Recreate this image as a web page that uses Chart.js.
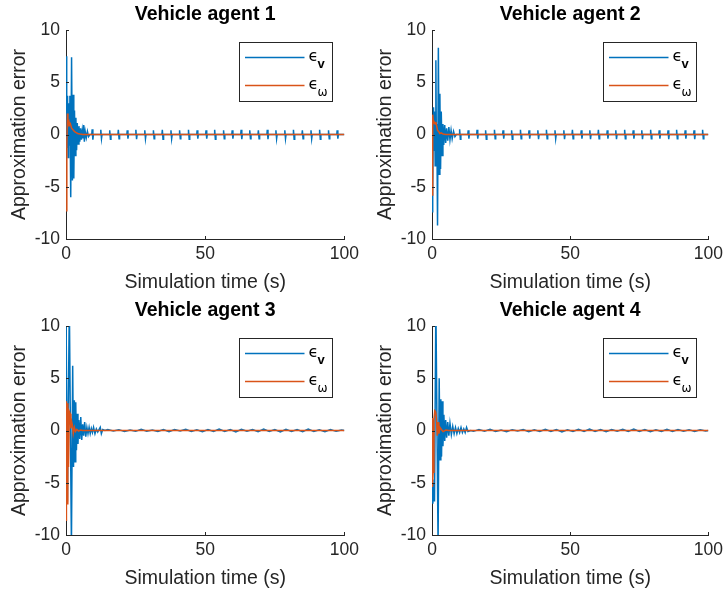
<!DOCTYPE html>
<html>
<head>
<meta charset="utf-8">
<script src="https://cdn.jsdelivr.net/npm/chart.js@4.4.1/dist/chart.umd.min.js"></script>
<style>
  html, body { margin: 0; padding: 0; background: #fff; }
  #wrap { position: relative; width: 728px; height: 599px; }
  .panel { position: absolute; width: 364px; height: 296px; }
</style>
</head>
<body>
<div id="wrap">
  <div class="panel" style="left:0;top:0"><canvas id="c1" width="364" height="296"></canvas></div>
  <div class="panel" style="left:364px;top:0"><canvas id="c2" width="364" height="296"></canvas></div>
  <div class="panel" style="left:0;top:296px"><canvas id="c3" width="364" height="296"></canvas></div>
  <div class="panel" style="left:364px;top:296px"><canvas id="c4" width="364" height="296"></canvas></div>
</div>
<script>
const titles = ["Vehicle agent 1", "Vehicle agent 2", "Vehicle agent 3", "Vehicle agent 4"];
const xTicks = [0, 50, 100];
const yTicks = [-10, -5, 0, 5, 10];

// agent 1
const tV1 = [0, 0.15, 0.35, 0.55, 0.75, 0.95, 1.15, 1.4, 1.7, 2.0, 2.3, 2.55, 2.8, 3.05, 3.3, 3.55, 3.8, 4.05, 4.35, 4.65, 4.95, 5.25, 5.55, 5.85, 6.15, 6.35, 6.6, 6.9, 7.3, 7.7, 8.1, 8.6];
const eV1 = [0.5, 7.5, -1.3, 3.7, -2.2, 3.0, -1.0, 3.7, -6.0, 7.4, -4.4, 3.8, -4.2, 2.3, -2.0, 1.6, -1.5, 1.1, -0.9, 0.8, -0.7, 0.6, -0.5, 0.4, -0.3, 0.9, -0.7, 0.3, -0.3, 0.3, -0.2, 0];
const sT1 = [9.4, 12.5, 15.7, 18.8, 22.0, 25.1, 28.3, 31.4, 34.6, 37.7, 40.8, 44.0, 47.1, 50.3, 53.4, 56.6, 59.7, 62.9, 66.0, 69.1, 72.3, 75.4, 78.6, 81.7, 84.9, 88.0, 91.1, 94.3, 97.4];
const sHi1 = [0.5, 0.45, 0.4, 0.45, 0.4, 0.45, 0.4, 0.4, 0.45, 0.4, 0.4, 0.45, 0.4, 0.4, 0.45, 0.4, 0.4, 0.45, 0.4, 0.4, 0.45, 0.4, 0.4, 0.45, 0.4, 0.4, 0.45, 0.4, 0.4];
const sLo1 = [-0.5, -0.4, -0.45, -0.4, -0.4, -0.45, -0.4, -0.4, -0.45, -0.4, -0.4, -0.45, -0.4, -0.4, -0.45, -0.4, -0.4, -0.45, -0.4, -0.4, -0.45, -0.4, -0.4, -0.45, -0.4, -0.4, -0.45, -0.4, -0.4];
const tW1 = [0, 0.3, 0.5, 0.7, 0.9, 1.1, 1.3, 1.6, 2.0, 2.5, 3.0, 3.5, 4.2, 5.0, 6.0, 100];
const eW1 = [-7.3, -1.0, 2.0, 1.3, 1.0, 1.2, 0.9, 1.0, 0.6, 0.45, 0.3, 0.2, 0.1, 0.05, 0, 0];

// agent 2
const tV2 = [0, 0.15, 0.35, 0.55, 0.75, 0.95, 1.15, 1.4, 1.6, 1.75, 2.0, 2.3, 2.6, 2.85, 3.1, 3.35, 3.65, 3.95, 4.25, 4.6, 4.95, 5.3, 5.7, 6.1, 6.5, 6.9, 7.3, 7.8, 8.3, 8.8];
const eV2 = [-7.4, -2.8, -5.5, 2.6, -1.5, 2.2, -3.0, 7.1, -2.0, 1.0, -8.7, 8.3, -3.8, 3.9, -3.3, 2.2, -2.0, 1.0, -1.0, 0.9, -0.8, 0.6, -0.6, 0.7, -0.5, 0.4, -0.4, 0.3, -0.2, 0];
const sT2 = [10.0, 13.1, 16.3, 19.4, 22.6, 25.7, 28.8, 32.0, 35.1, 38.3, 41.4, 44.5, 47.7, 50.8, 54.0, 57.1, 60.2, 63.4, 66.5, 69.7, 72.8, 75.9, 79.1, 82.2, 85.4, 88.5, 91.6, 94.8, 97.9];
const sHi2 = [0.5, 0.4, 0.45, 0.4, 0.45, 0.4, 0.4, 0.45, 0.4, 0.4, 0.45, 0.4, 0.4, 0.45, 0.4, 0.4, 0.45, 0.4, 0.4, 0.45, 0.4, 0.4, 0.45, 0.4, 0.4, 0.45, 0.4, 0.4, 0.45];
const sLo2 = [-0.45, -0.4, -0.4, -0.45, -0.4, -0.4, -0.45, -0.4, -0.4, -0.45, -0.4, -0.4, -0.45, -0.4, -0.4, -0.45, -0.4, -0.4, -0.45, -0.4, -0.4, -0.45, -0.4, -0.4, -0.45, -0.4, -0.4, -0.45, -0.4];
const tW2 = [0, 0.15, 0.35, 0.55, 0.8, 1.1, 1.4, 1.7, 2.0, 2.4, 2.8, 3.3, 4.0, 5.0, 6.0, 100];
const eW2 = [-5.8, -2.0, 1.9, 1.1, 1.2, 1.0, 1.2, 0.8, 0.4, 0.3, 0.1, 0.15, 0.05, 0, 0, 0];

// agents 3 and 4: transient, then small noise on a shared time grid
const tNoise = [15, 17, 19, 21, 23, 25, 27, 29, 31, 33, 35, 37, 39, 41, 43, 45, 47, 49, 51, 53, 55, 57, 59, 61, 63, 65, 67, 69, 71, 73, 75, 77, 79, 81, 83, 85, 87, 89, 91, 93, 95, 97, 99];

const tV3 = [0, 0.5, 1.2, 1.95, 2.4, 2.7, 3.0, 3.25, 3.5, 3.75, 4.0, 4.3, 4.6, 4.95, 5.3, 5.65, 6.0, 6.35, 6.7, 7.1, 7.5, 7.9, 8.3, 8.7, 9.1, 9.5, 9.9, 10.4, 10.9, 11.4, 11.9, 12.3, 12.7, 13.2, 14];
const eV3 = [12, -6.8, 12, -11, 6.2, -3.5, 2.9, -3.0, 2.7, -1.9, 1.6, -1.3, 1.0, -0.8, 1.3, -0.9, 0.6, -0.5, 0.8, -0.6, 0.3, -0.3, 0.3, -0.3, 0.2, -0.2, 0.3, -0.3, 0.15, -0.15, 0.1, 0.3, -0.3, 0.1, 0];
const nV3 = [0.1, -0.05, 0.08, -0.1, 0.05, -0.08, 0.12, -0.06, 0.04, -0.1, 0.08, -0.12, 0.1, -0.05, 0.12, -0.1, 0.06, -0.12, 0.1, -0.08, 0.14, -0.1, 0.08, -0.14, 0.12, -0.06, 0.1, -0.12, 0.14, -0.08, 0.1, -0.14, 0.12, -0.1, 0.08, -0.12, 0.14, -0.1, 0.06, -0.12, 0.1, -0.08, 0.05];
const tW3 = [0, 0.15, 0.4, 0.65, 0.9, 1.2, 1.5, 1.75, 2.0, 2.3, 2.6, 3.0, 3.4, 3.9, 4.5, 5.2, 6.0, 7.0, 100];
const eW3 = [-8.6, 2.8, -7.0, 2.6, -3.5, 1.8, 1.6, 0.2, 0.9, 0.5, -0.3, 0.3, -0.1, 0.1, -0.05, 0.05, 0, 0, 0];

const tV4 = [0, 0.3, 0.6, 0.9, 1.4, 2.2, 2.6, 2.9, 3.2, 3.45, 3.7, 3.95, 4.3, 4.6, 4.95, 5.3, 5.7, 6.1, 6.5, 7.0, 7.5, 8.0, 8.5, 9.0, 9.5, 10.0, 10.5, 11.0, 11.5, 12.0, 12.5, 13.0, 14];
const eV4 = [-4.7, -7.0, -5.0, -6.8, 12, -11, 5.0, -2.8, 3.0, -2.5, 2.8, -1.5, 1.5, -1.0, 1.0, -0.7, 0.8, -0.5, 0.7, -0.4, 0.4, -0.3, 0.3, -0.3, 0.2, -0.2, 0.3, -0.2, 0.15, -0.2, 0.3, -0.1, 0];
const nV4 = [-0.08, 0.1, -0.06, 0.12, -0.1, 0.05, -0.12, 0.08, -0.05, 0.1, -0.12, 0.06, -0.1, 0.12, -0.08, 0.1, -0.14, 0.06, -0.1, 0.12, -0.08, 0.14, -0.1, 0.08, -0.12, 0.1, -0.06, 0.12, -0.1, 0.14, -0.08, 0.1, -0.12, 0.06, -0.1, 0.12, -0.08, 0.1, -0.06, 0.08, -0.1, 0.06, -0.04];
const tW4 = [0, 0.15, 0.4, 0.7, 1.0, 1.3, 1.6, 1.9, 2.2, 2.5, 2.9, 3.4, 4.0, 5.0, 6.0, 100];
const eW4 = [1.2, -5.4, -4.0, 1.0, 1.9, 1.8, 1.2, -0.5, 0.8, -0.3, 0.3, 0.1, -0.1, 0.05, 0, 0];

const BLUE = "#0072BD";
const ORANGE = "#D95319";
const AXIS = "#262626";
const FONT = '"Liberation Sans", Arial, Helvetica, sans-serif';
const xEnd = xTicks[xTicks.length - 1];

Chart.defaults.font.family = FONT;

function toPoints(ts, vs) {
  return ts.map((t, i) => ({ x: t, y: vs[i] }));
}

// each periodic burst: back to zero, peak, trough, zero
function spikes(ts, his, los) {
  const pts = [];
  ts.forEach((t, i) => {
    pts.push({ x: t - 0.15, y: 0 }, { x: t, y: his[i] }, { x: t + 0.25, y: los[i] }, { x: t + 0.45, y: 0 });
  });
  return pts;
}

const panelDecor = {
  id: "panelDecor",
  afterDraw(chart, args, opts) {
    const { ctx, chartArea: a, scales: { x, y } } = chart;
    ctx.save();

    ctx.fillStyle = "#000";
    ctx.font = "bold 19.5px " + FONT;
    ctx.textAlign = "center";
    ctx.textBaseline = "alphabetic";
    ctx.fillText(opts.title, (a.left + a.right) / 2, a.top - 10);

    // inward ticks like matlab
    ctx.strokeStyle = AXIS;
    ctx.lineWidth = 1;
    ctx.beginPath();
    x.ticks.forEach(t => {
      const px = Math.round(x.getPixelForValue(t.value)) + 0.5;
      ctx.moveTo(px, a.bottom);
      ctx.lineTo(px, a.bottom - 3);
    });
    y.ticks.forEach(t => {
      const py = Math.round(y.getPixelForValue(t.value)) + 0.5;
      ctx.moveTo(a.left, py);
      ctx.lineTo(a.left + 3, py);
    });
    ctx.stroke();

    // legend box
    const right = Math.round(a.right - 12) + 0.5;
    const left = right - 93;
    const top = Math.round(a.top + 12) + 0.5;
    ctx.fillStyle = "#fff";
    ctx.fillRect(left, top, 93, 59);
    ctx.strokeStyle = AXIS;
    ctx.strokeRect(left, top, 93, 59);

    const rows = [
      { y: top + 15, color: BLUE, sub: "v", subFont: "bold 13px " + FONT },
      { y: top + 43, color: ORANGE, sub: "\u03c9", subFont: '12px "DejaVu Sans", sans-serif' },
    ];
    rows.forEach(r => {
      ctx.strokeStyle = r.color;
      ctx.lineWidth = 1.3;
      ctx.beginPath();
      ctx.moveTo(left + 5.5, r.y);
      ctx.lineTo(left + 65, r.y);
      ctx.stroke();
      ctx.fillStyle = "#000";
      ctx.textAlign = "left";
      ctx.font = '16px "DejaVu Sans", sans-serif';
      ctx.fillText("\u03f5", left + 69, r.y + 3);
      ctx.font = r.subFont;
      ctx.fillText(r.sub, left + 78, r.y + 10);
    });

    ctx.restore();
  }
};

function makePanel(id, title, blue, orange, padLeft) {
  new Chart(document.getElementById(id), {
    type: "line",
    data: {
      datasets: [
        { label: "ev", data: blue, borderColor: BLUE, borderWidth: 1.5, pointRadius: 0, tension: 0, order: 1 },
        { label: "ew", data: orange, borderColor: ORANGE, borderWidth: 1.5, pointRadius: 0, tension: 0, order: 0 },
      ],
    },
    plugins: [panelDecor],
    options: {
      responsive: false,
      animation: false,
      events: [],
      layout: {
        padding: { left: padLeft, top: 30, right: 364 - padLeft - 66 - 279, bottom: 2 },
      },
      plugins: {
        legend: { display: false },
        tooltip: { enabled: false },
        panelDecor: { title: title },
      },
      scales: {
        x: {
          type: "linear",
          min: xTicks[0],
          max: xEnd,
          afterBuildTicks: s => { s.ticks = xTicks.map(v => ({ value: v })); },
          afterFit: s => { s.height = 55; },
          ticks: { color: AXIS, font: { size: 17.5 }, padding: 5, maxRotation: 0 },
          grid: { drawOnChartArea: false, drawTicks: false },
          border: { color: AXIS, width: 1 },
          title: { display: true, text: "Simulation time (s)", color: AXIS, font: { size: 19.5 }, padding: { top: 0, bottom: 0 } },
        },
        y: {
          type: "linear",
          min: yTicks[0],
          max: yTicks[yTicks.length - 1],
          afterBuildTicks: s => { s.ticks = yTicks.map(v => ({ value: v })); },
          afterFit: s => { s.width = 66; },
          ticks: { color: AXIS, font: { size: 17.5 }, padding: 6 },
          grid: { drawOnChartArea: false, drawTicks: false },
          border: { color: AXIS, width: 1 },
          title: { display: true, text: "Approximation error", color: AXIS, font: { size: 19.5 }, padding: { top: 8, bottom: 0 } },
        },
      },
    },
  });
}

makePanel("c1", titles[0],
  toPoints(tV1, eV1).concat(spikes(sT1, sHi1, sLo1), [{ x: xEnd, y: 0 }]),
  toPoints(tW1, eW1), 0);
makePanel("c2", titles[1],
  toPoints(tV2, eV2).concat(spikes(sT2, sHi2, sLo2), [{ x: xEnd, y: 0 }]),
  toPoints(tW2, eW2), 2);
makePanel("c3", titles[2],
  toPoints(tV3, eV3).concat(toPoints(tNoise, nV3), [{ x: xEnd, y: 0 }]),
  toPoints(tW3, eW3), 0);
makePanel("c4", titles[3],
  toPoints(tV4, eV4).concat(toPoints(tNoise, nV4), [{ x: xEnd, y: 0 }]),
  toPoints(tW4, eW4), 2);
</script>
</body>
</html>
